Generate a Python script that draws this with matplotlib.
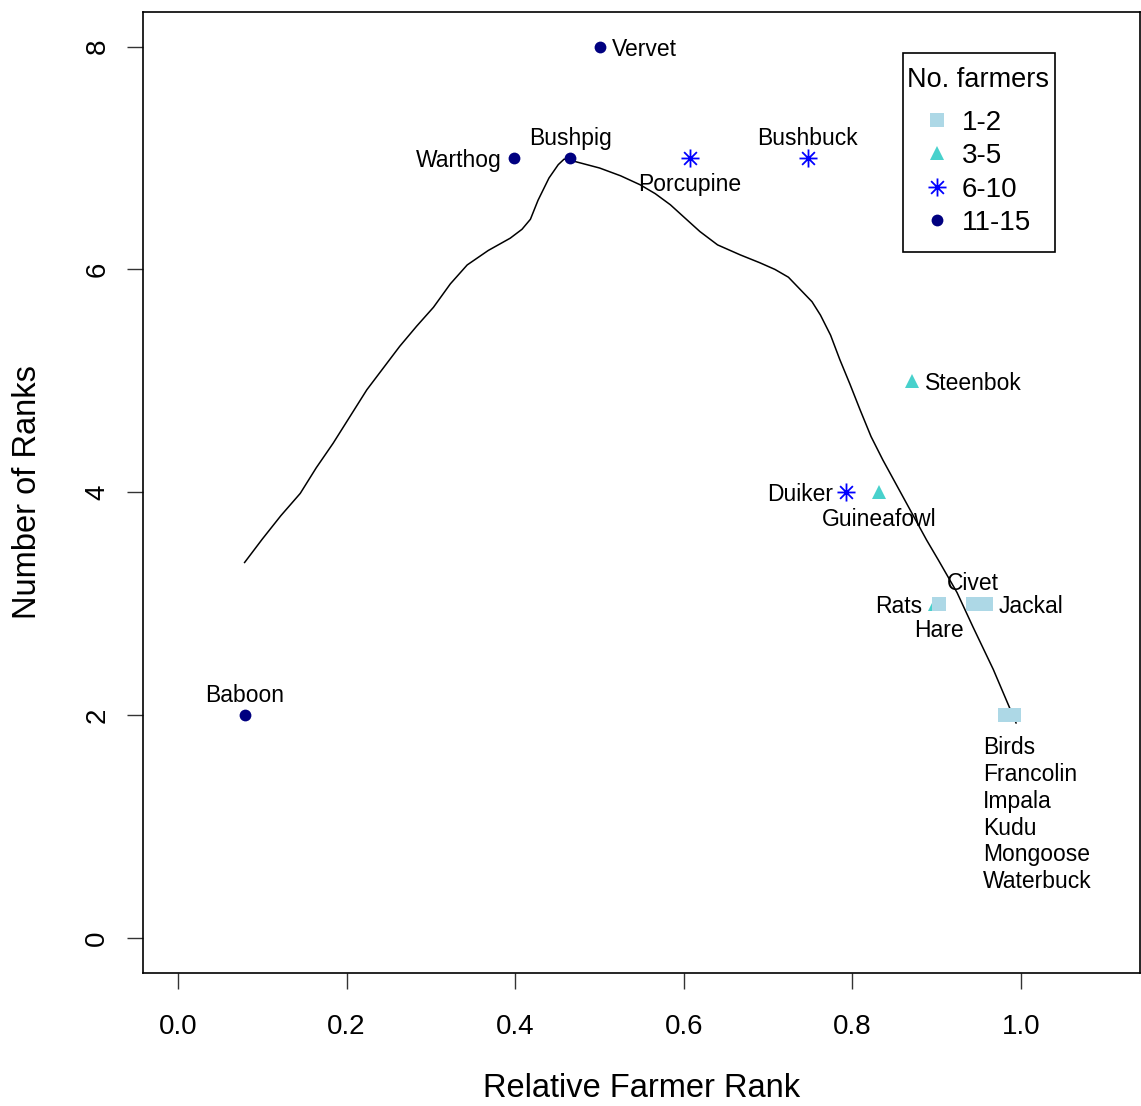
import numpy as np
import matplotlib.pyplot as plt
from matplotlib.path import Path
from matplotlib.patches import Rectangle

plt.rcParams['font.family'] = ['Liberation Sans', 'DejaVu Sans']

# species: relative farmer rank vs number of ranks, grouped by number of farmers
species = ["Baboon", "Warthog", "Bushpig", "Vervet", "Porcupine", "Bushbuck",
           "Steenbok", "Duiker", "Guineafowl", "Rats", "Hare", "Civet", "Jackal",
           "Birds", "Francolin", "Impala", "Kudu", "Mongoose", "Waterbuck"]
rel_rank = [0.079, 0.399, 0.465, 0.500, 0.607, 0.747,
            0.871, 0.792, 0.832, 0.898, 0.903, 0.943, 0.958,
            0.981, 0.984, 0.987, 0.989, 0.990, 0.992]
n_ranks = [2, 7, 7, 8, 7, 7,
           5, 4, 4, 3, 3, 3, 3,
           2, 2, 2, 2, 2, 2]
farmers_grp = ["11-15", "11-15", "11-15", "11-15", "6-10", "6-10",
               "3-5", "6-10", "3-5", "3-5", "1-2", "1-2", "1-2",
               "1-2", "1-2", "1-2", "1-2", "1-2", "1-2"]

# smoothed trend line
curve_x = [0.079, 0.100, 0.122, 0.145, 0.164, 0.184, 0.204, 0.224, 0.244, 0.263,
           0.283, 0.303, 0.323, 0.343, 0.368, 0.394, 0.408, 0.418, 0.427, 0.440,
           0.451, 0.458, 0.465, 0.480, 0.500, 0.525, 0.548, 0.566, 0.584, 0.600,
           0.619, 0.640, 0.667, 0.690, 0.708, 0.724, 0.738, 0.752, 0.762, 0.774,
           0.785, 0.797, 0.809, 0.822, 0.836, 0.862, 0.888, 0.902, 0.924, 0.943,
           0.967, 0.994]
curve_y = [3.37, 3.58, 3.79, 3.99, 4.22, 4.44, 4.68, 4.92, 5.12, 5.31,
           5.49, 5.66, 5.87, 6.04, 6.17, 6.28, 6.36, 6.45, 6.62, 6.82,
           6.94, 6.99, 6.98, 6.95, 6.91, 6.84, 6.76, 6.68, 6.58, 6.47,
           6.34, 6.22, 6.13, 6.06, 6.00, 5.93, 5.82, 5.71, 5.59, 5.41,
           5.19, 4.97, 4.74, 4.50, 4.29, 3.93, 3.57, 3.39, 3.10, 2.79,
           2.41, 1.93]

groups = ["1-2", "3-5", "6-10", "11-15"]

# R-style asterisk: a plus and a cross overlaid
d = 0.707
star_path = Path([(-1, 0), (1, 0), (0, -1), (0, 1), (-d, -d), (d, d), (-d, d), (d, -d)],
                 [Path.MOVETO, Path.LINETO] * 4)

styles = {
    "1-2": dict(marker='s', color='#ADD8E6', ms=9.5, mew=0),
    "3-5": dict(marker='^', color='#48D1CC', ms=9.5, mew=0),
    "6-10": dict(marker=star_path, color='blue', ms=13, mew=1.3),
    "11-15": dict(marker='o', color='#000080', ms=8.5, mew=0),
}

# where each label sits relative to its point (R's pos: 1 below, 2 left, 3 above, 4 right)
label_pos = {"Baboon": 3, "Warthog": 2, "Bushpig": 3, "Vervet": 4, "Porcupine": 1,
             "Bushbuck": 3, "Steenbok": 4, "Duiker": 2, "Guineafowl": 1, "Rats": 2,
             "Hare": 1, "Civet": 3, "Jackal": 4}

W, H = 1141, 1106
AX_L, AX_T, AX_W, AX_H = 143, 12, 997, 961

fig = plt.figure(figsize=(W / 100, H / 100), dpi=100)
ax = fig.add_axes([AX_L / W, 1 - (AX_T + AX_H) / H, AX_W / W, AX_H / H])


def px2ax(px, py):
    # pixel position in the figure -> axes fraction (used for the legend box)
    return (px - AX_L) / AX_W, (AX_T + AX_H - py) / AX_H


ax.plot(curve_x, curve_y, color='black', lw=1.1, zorder=1)

for x, y, g in zip(rel_rank, n_ranks, farmers_grp):
    ax.plot(x, y, linestyle='none', fillstyle='full', zorder=2, **styles[g])

offsets = {1: ((0, -11), 'center', 'top'), 2: ((-9, 0), 'right', 'center_baseline'),
           3: ((0, 6), 'center', 'bottom'), 4: ((9, 0), 'left', 'center_baseline')}
for name, x, y in zip(species, rel_rank, n_ranks):
    if name not in label_pos:
        continue
    off, ha, va = offsets[label_pos[name]]
    ax.annotate(name, (x, y), xytext=off, textcoords='offset points',
                ha=ha, va=va, fontsize=16.5, zorder=3)

multi = [s for s in species if s not in label_pos]
i0 = species.index(multi[0])
ax.annotate("\n".join(multi), (rel_rank[i0], n_ranks[i0]), xytext=(-16, -15),
            textcoords='offset points', ha='left', va='top', fontsize=16.5,
            linespacing=1.215)

ax.set_xlim(-0.0415, 1.141)
ax.set_ylim(-0.314, 8.31)
ax.set_xticks(np.arange(0, 1.01, 0.2))
ax.set_xticklabels([f"{v:.1f}" for v in np.arange(0, 1.01, 0.2)])
ax.set_yticks([0, 2, 4, 6, 8])
ax.tick_params(labelsize=20, length=11.5, width=1, color='#333333')
ax.tick_params(axis='x', pad=18)
ax.tick_params(axis='y', pad=12)
for lab in ax.get_yticklabels():
    lab.set_rotation(90)
    lab.set_va('center')
for sp in ax.spines.values():
    sp.set_linewidth(1.2)

ax.set_xlabel("Relative Farmer Rank", fontsize=23.5, labelpad=24)
ax.set_ylabel("Number of Ranks", fontsize=23.5, labelpad=30)

# legend drawn by hand, R style
x0, y0 = px2ax(903, 252)
x1, y1 = px2ax(1055, 53)
ax.add_patch(Rectangle((x0, y0), x1 - x0, y1 - y0, transform=ax.transAxes,
                       facecolor='white', edgecolor='black', lw=1.2, zorder=4))
tx, ty = px2ax(907, 77)
ax.text(tx, ty, "No. farmers", transform=ax.transAxes, fontsize=19.5,
        ha='left', va='center_baseline', zorder=5)
for g, row_y in zip(groups, [120, 153, 187, 220]):
    mx, my = px2ax(937, row_y)
    ax.plot(mx, my, linestyle='none', transform=ax.transAxes, zorder=5,
            clip_on=False, **styles[g])
    lx, _ = px2ax(962, row_y)
    ax.text(lx, my, g, transform=ax.transAxes, fontsize=20, ha='left',
            va='center_baseline', zorder=5)

fig.savefig("out.png", dpi=100)
